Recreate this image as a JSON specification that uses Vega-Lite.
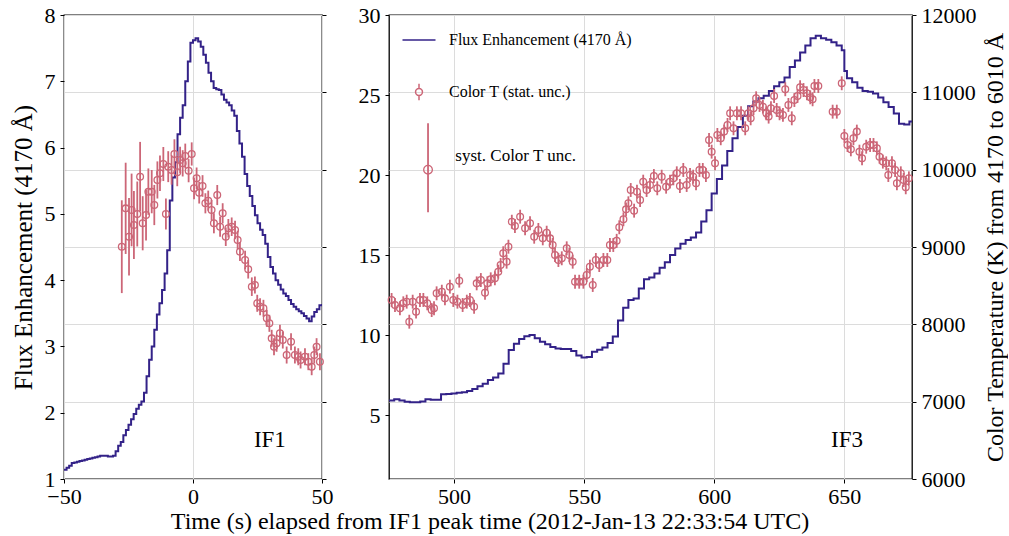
{
"$schema": "https://vega.github.io/schema/vega-lite/v6.json",
"background": "white",
"padding": {"left": 10, "top": 3, "right": 0, "bottom": 0},
"bounds": "flush",
"spacing": 67,
"config": {
  "view": {"stroke": "black", "strokeWidth": 1.3},
  "axis": {"domain": false, "grid": false, "tickColor": "black", "tickSize": 4, "tickWidth": 1, "labelFont": "Liberation Serif", "labelFontSize": 22, "labelColor": "black", "labelPadding": 5, "titleFont": "Liberation Serif", "titleFontSize": 24, "titleFontWeight": "normal", "titleColor": "black", "gridColor": "#dcdcdc", "gridWidth": 1, "format": "d"},
  "axisX": {"labelFlush": false, "labelPadding": 3},
  "legend": {"labelFont": "Liberation Serif", "labelFontSize": 16, "labelColor": "black"}
},
"title": {"text": "Time (s) elapsed from IF1 peak time (2012-Jan-13 22:33:54 UTC)", "orient": "bottom", "anchor": "middle", "dx": -19, "font": "Liberation Serif", "fontSize": 24, "fontWeight": "normal", "color": "black", "offset": 2},
"resolve": {"scale": {"color": "independent", "shape": "independent"}, "legend": {"color": "independent", "shape": "independent"}},
"datasets": {
  "flux1": [
    {"t":-50,"f":1.14},{"t":-49,"f":1.17},{"t":-48,"f":1.2},{"t":-47,"f":1.24},{"t":-46,"f":1.25},{"t":-45,"f":1.26},{"t":-44,"f":1.27},{"t":-43,"f":1.28},{"t":-42,"f":1.29},{"t":-41,"f":1.3},{"t":-40,"f":1.31},{"t":-39,"f":1.32},{"t":-38,"f":1.33},{"t":-37,"f":1.34},{"t":-36,"f":1.35},{"t":-35,"f":1.35},{"t":-34,"f":1.35},{"t":-33,"f":1.34},{"t":-32,"f":1.34},{"t":-31,"f":1.35},{"t":-30,"f":1.42},{"t":-29,"f":1.5},{"t":-28,"f":1.56},{"t":-27,"f":1.66},{"t":-26,"f":1.74},{"t":-25,"f":1.82},{"t":-24,"f":1.9},{"t":-23,"f":1.98},{"t":-22,"f":2.06},{"t":-21,"f":2.12},{"t":-20,"f":2.17},{"t":-19,"f":2.3},{"t":-18,"f":2.55},{"t":-17,"f":2.8},{"t":-16,"f":3.0},{"t":-15,"f":3.25},{"t":-14,"f":3.48},{"t":-13,"f":3.65},{"t":-12,"f":3.85},{"t":-11,"f":4.1},{"t":-10,"f":4.45},{"t":-9,"f":5.2},{"t":-8,"f":5.55},{"t":-7,"f":5.78},{"t":-6,"f":6.2},{"t":-5,"f":6.45},{"t":-4,"f":6.64},{"t":-3,"f":7.0},{"t":-2,"f":7.3},{"t":-1,"f":7.58},{"t":0,"f":7.62},{"t":1,"f":7.65},{"t":2,"f":7.6},{"t":3,"f":7.52},{"t":4,"f":7.4},{"t":5,"f":7.28},{"t":6,"f":7.13},{"t":7,"f":7.0},{"t":8,"f":6.9},{"t":9,"f":6.88},{"t":10,"f":6.87},{"t":11,"f":6.8},{"t":12,"f":6.72},{"t":13,"f":6.68},{"t":14,"f":6.64},{"t":15,"f":6.56},{"t":16,"f":6.48},{"t":17,"f":6.25},{"t":18,"f":6.06},{"t":19,"f":5.86},{"t":20,"f":5.6},{"t":21,"f":5.42},{"t":22,"f":5.27},{"t":23,"f":5.12},{"t":24,"f":4.98},{"t":25,"f":4.86},{"t":26,"f":4.76},{"t":27,"f":4.68},{"t":28,"f":4.55},{"t":29,"f":4.35},{"t":30,"f":4.2},{"t":31,"f":4.1},{"t":32,"f":4.0},{"t":33,"f":3.93},{"t":34,"f":3.86},{"t":35,"f":3.8},{"t":36,"f":3.76},{"t":37,"f":3.7},{"t":38,"f":3.64},{"t":39,"f":3.6},{"t":40,"f":3.56},{"t":41,"f":3.53},{"t":42,"f":3.5},{"t":43,"f":3.46},{"t":44,"f":3.42},{"t":45,"f":3.38},{"t":46,"f":3.45},{"t":47,"f":3.52},{"t":48,"f":3.56},{"t":49,"f":3.62},{"t":50,"f":3.64}
  ],
  "ct1": [
    {"t":-27.6,"T":9004,"e":600},{"t":-26.1,"T":9500,"e":590},{"t":-24.8,"T":9133,"e":500},{"t":-23.8,"T":9479,"e":470},{"t":-22.9,"T":9285,"e":440},{"t":-21.6,"T":9427,"e":420},{"t":-20.5,"T":9909,"e":450},{"t":-19.5,"T":9307,"e":350},{"t":-18.2,"T":9414,"e":330},{"t":-17.3,"T":9716,"e":300},{"t":-16,"T":9716,"e":280},{"t":-15,"T":9543,"e":260},{"t":-13.8,"T":9867,"e":240},{"t":-12.8,"T":9953,"e":230},{"t":-11.5,"T":10073,"e":220},{"t":-10.5,"T":9427,"e":200},{"t":-9.6,"T":10039,"e":200},{"t":-8.3,"T":9996,"e":190},{"t":-7.2,"T":10203,"e":190},{"t":-6.1,"T":9966,"e":180},{"t":-5,"T":10125,"e":170},{"t":-4,"T":10082,"e":170},{"t":-3,"T":10177,"e":160},{"t":-1.7,"T":9987,"e":150},{"t":-0.5,"T":10203,"e":150},{"t":0.4,"T":9759,"e":140},{"t":1.4,"T":9888,"e":140},{"t":2.4,"T":9702,"e":140},{"t":3.7,"T":9789,"e":140},{"t":4.8,"T":9565,"e":130},{"t":5.9,"T":9599,"e":130},{"t":7.2,"T":9479,"e":130},{"t":8.1,"T":9307,"e":130},{"t":9.4,"T":9672,"e":130},{"t":10.5,"T":9262,"e":130},{"t":11.5,"T":9436,"e":130},{"t":12.7,"T":9133,"e":120},{"t":13.7,"T":9242,"e":120},{"t":15,"T":9262,"e":120},{"t":16.3,"T":9220,"e":120},{"t":17.3,"T":9091,"e":120},{"t":18.2,"T":8940,"e":120},{"t":20.2,"T":8832,"e":120},{"t":21.4,"T":8712,"e":120},{"t":22.8,"T":8487,"e":120},{"t":24,"T":8509,"e":110},{"t":24.9,"T":8272,"e":110},{"t":26,"T":8228,"e":110},{"t":27.3,"T":8207,"e":110},{"t":28.6,"T":8078,"e":110},{"t":29.6,"T":8013,"e":110},{"t":30.5,"T":7819,"e":110},{"t":31.4,"T":7711,"e":110},{"t":32.4,"T":7755,"e":110},{"t":33.7,"T":7884,"e":110},{"t":34.8,"T":7797,"e":110},{"t":36.3,"T":7603,"e":110},{"t":38,"T":7776,"e":110},{"t":39.5,"T":7603,"e":110},{"t":40.8,"T":7581,"e":110},{"t":41.7,"T":7539,"e":110},{"t":43.4,"T":7581,"e":110},{"t":44.7,"T":7517,"e":110},{"t":46,"T":7452,"e":110},{"t":47,"T":7603,"e":110},{"t":47.9,"T":7711,"e":110},{"t":49.2,"T":7517,"e":110}
  ],
  "flux2": [
    {"t":475,"f":5.9},{"t":477,"f":5.98},{"t":479,"f":5.9},{"t":481,"f":5.83},{"t":483,"f":5.8},{"t":485,"f":5.79},{"t":487,"f":5.85},{"t":489,"f":5.98},{"t":491,"f":5.95},{"t":493,"f":5.95},{"t":495,"f":6.29},{"t":497,"f":6.31},{"t":499,"f":6.35},{"t":501,"f":6.39},{"t":503,"f":6.42},{"t":505,"f":6.5},{"t":507,"f":6.62},{"t":509,"f":6.8},{"t":511,"f":6.96},{"t":513,"f":7.18},{"t":515,"f":7.35},{"t":517,"f":7.6},{"t":519,"f":8.2},{"t":521,"f":9.06},{"t":523,"f":9.45},{"t":525,"f":9.75},{"t":527,"f":9.92},{"t":529,"f":10.0},{"t":531,"f":9.8},{"t":533,"f":9.58},{"t":535,"f":9.42},{"t":537,"f":9.25},{"t":539,"f":9.15},{"t":541,"f":9.13},{"t":543,"f":9.13},{"t":545,"f":9.0},{"t":547,"f":8.72},{"t":549,"f":8.6},{"t":551,"f":8.62},{"t":553,"f":8.95},{"t":555,"f":9.08},{"t":557,"f":9.22},{"t":559,"f":9.5},{"t":561,"f":9.9},{"t":563,"f":10.9},{"t":565,"f":11.7},{"t":567,"f":12.19},{"t":569,"f":12.28},{"t":571,"f":12.9},{"t":573,"f":13.48},{"t":575,"f":13.6},{"t":577,"f":13.85},{"t":579,"f":14.2},{"t":581,"f":14.55},{"t":583,"f":15.0},{"t":585,"f":15.4},{"t":587,"f":15.7},{"t":589,"f":15.94},{"t":591,"f":16.1},{"t":593,"f":16.4},{"t":595,"f":17.1},{"t":597,"f":17.8},{"t":599,"f":18.85},{"t":601,"f":19.75},{"t":603,"f":20.6},{"t":605,"f":21.5},{"t":607,"f":22.3},{"t":609,"f":23.0},{"t":611,"f":23.7},{"t":613,"f":24.3},{"t":615,"f":24.6},{"t":617,"f":24.79},{"t":619,"f":24.95},{"t":621,"f":25.25},{"t":623,"f":25.55},{"t":625,"f":25.8},{"t":627,"f":26.1},{"t":629,"f":26.75},{"t":631,"f":27.15},{"t":633,"f":27.65},{"t":635,"f":28.1},{"t":637,"f":28.55},{"t":639,"f":28.7},{"t":641,"f":28.55},{"t":643,"f":28.45},{"t":645,"f":28.3},{"t":647,"f":28.1},{"t":649,"f":27.8},{"t":650,"f":26.5},{"t":651,"f":26.04},{"t":653,"f":25.8},{"t":655,"f":25.45},{"t":657,"f":25.25},{"t":659,"f":25.2},{"t":661,"f":25.1},{"t":663,"f":24.85},{"t":665,"f":24.55},{"t":667,"f":24.25},{"t":669,"f":23.85},{"t":671,"f":23.2},{"t":673,"f":23.15},{"t":675,"f":23.35},{"t":676,"f":23.35}
  ],
  "ct2": [
    {"t":476,"T":8315,"e":90},{"t":477.3,"T":8250,"e":90},{"t":479.2,"T":8207,"e":90},{"t":480.5,"T":8272,"e":90},{"t":481.8,"T":8293,"e":90},{"t":482.8,"T":8034,"e":90},{"t":484.1,"T":8293,"e":90},{"t":485.4,"T":8164,"e":90},{"t":486.9,"T":8315,"e":90},{"t":488.2,"T":8315,"e":90},{"t":489.7,"T":8272,"e":90},{"t":491.4,"T":8185,"e":90},{"t":492.3,"T":8207,"e":90},{"t":493.3,"T":8401,"e":90},{"t":495.3,"T":8422,"e":90},{"t":496.5,"T":8336,"e":90},{"t":498.4,"T":8487,"e":90},{"t":499.7,"T":8315,"e":90},{"t":501.3,"T":8293,"e":90},{"t":502,"T":8565,"e":90},{"t":503.3,"T":8250,"e":90},{"t":504.9,"T":8293,"e":90},{"t":506.1,"T":8315,"e":90},{"t":507.7,"T":8228,"e":90},{"t":508.7,"T":8530,"e":90},{"t":510.3,"T":8573,"e":90},{"t":511.9,"T":8409,"e":90},{"t":512.8,"T":8530,"e":90},{"t":514.1,"T":8582,"e":90},{"t":515.7,"T":8595,"e":90},{"t":517,"T":8681,"e":90},{"t":517.9,"T":8767,"e":90},{"t":518.9,"T":8919,"e":90},{"t":520.2,"T":8810,"e":90},{"t":520.9,"T":9004,"e":90},{"t":522.2,"T":9327,"e":90},{"t":523.4,"T":9272,"e":90},{"t":525.4,"T":9392,"e":90},{"t":527.3,"T":9242,"e":90},{"t":529.2,"T":9307,"e":90},{"t":530.8,"T":9133,"e":90},{"t":532.4,"T":9220,"e":90},{"t":534.1,"T":9112,"e":90},{"t":535.6,"T":9185,"e":90},{"t":536.9,"T":9112,"e":90},{"t":537.9,"T":9026,"e":90},{"t":538.8,"T":8897,"e":90},{"t":540.1,"T":8832,"e":90},{"t":541.4,"T":8854,"e":90},{"t":543.3,"T":8983,"e":90},{"t":544.3,"T":8897,"e":90},{"t":545.6,"T":8810,"e":90},{"t":546.5,"T":8551,"e":90},{"t":548.1,"T":8551,"e":90},{"t":549.7,"T":8551,"e":90},{"t":551,"T":8638,"e":90},{"t":552.2,"T":8746,"e":90},{"t":553.3,"T":8509,"e":90},{"t":554.5,"T":8832,"e":90},{"t":555.8,"T":8767,"e":90},{"t":557.4,"T":8832,"e":90},{"t":558.9,"T":8832,"e":90},{"t":559.9,"T":9026,"e":90},{"t":561.2,"T":9026,"e":90},{"t":562.5,"T":9080,"e":90},{"t":563.5,"T":9255,"e":90},{"t":565.1,"T":9358,"e":90},{"t":566.1,"T":9487,"e":90},{"t":567,"T":9565,"e":90},{"t":567.9,"T":9737,"e":90},{"t":569.2,"T":9470,"e":90},{"t":570.3,"T":9716,"e":90},{"t":571.5,"T":9608,"e":90},{"t":572.7,"T":9845,"e":90},{"t":574,"T":9737,"e":90},{"t":575.3,"T":9802,"e":90},{"t":576.8,"T":9918,"e":90},{"t":578.1,"T":9759,"e":90},{"t":579.8,"T":9909,"e":90},{"t":581.5,"T":9780,"e":90},{"t":583,"T":9845,"e":90},{"t":584.3,"T":9888,"e":90},{"t":585.6,"T":9953,"e":90},{"t":586.8,"T":9789,"e":90},{"t":588.1,"T":9996,"e":90},{"t":589.4,"T":9802,"e":90},{"t":590.7,"T":9931,"e":90},{"t":591.9,"T":9909,"e":90},{"t":593,"T":9824,"e":90},{"t":594.3,"T":9996,"e":90},{"t":595.6,"T":9996,"e":90},{"t":596.8,"T":9931,"e":90},{"t":598,"T":10384,"e":90},{"t":599,"T":10233,"e":90},{"t":600.3,"T":10082,"e":90},{"t":601.2,"T":10449,"e":90},{"t":602.5,"T":10406,"e":90},{"t":603.8,"T":10492,"e":90},{"t":605.1,"T":10578,"e":90},{"t":606.1,"T":10729,"e":90},{"t":607.4,"T":10535,"e":90},{"t":608.7,"T":10729,"e":90},{"t":610.3,"T":10729,"e":90},{"t":611.9,"T":10535,"e":90},{"t":613.1,"T":10729,"e":90},{"t":614,"T":10664,"e":90},{"t":615.1,"T":10794,"e":90},{"t":616.1,"T":10923,"e":90},{"t":617.4,"T":10837,"e":90},{"t":618.7,"T":10815,"e":90},{"t":620,"T":10729,"e":90},{"t":620.9,"T":10686,"e":90},{"t":621.8,"T":10794,"e":90},{"t":623,"T":10953,"e":90},{"t":624,"T":10772,"e":90},{"t":625.1,"T":10729,"e":90},{"t":626.4,"T":10708,"e":90},{"t":627.3,"T":11040,"e":90},{"t":628.5,"T":10837,"e":90},{"t":629.8,"T":10664,"e":90},{"t":630.8,"T":10901,"e":90},{"t":632,"T":10953,"e":90},{"t":633,"T":11066,"e":90},{"t":634.3,"T":11030,"e":90},{"t":635.6,"T":10988,"e":90},{"t":636.9,"T":10936,"e":90},{"t":637.8,"T":10910,"e":90},{"t":638.5,"T":11082,"e":90},{"t":640,"T":11082,"e":90},{"t":645.5,"T":10750,"e":90},{"t":647.1,"T":10750,"e":90},{"t":649,"T":11117,"e":90},{"t":650,"T":10436,"e":90},{"t":651.2,"T":10319,"e":90},{"t":652.5,"T":10263,"e":90},{"t":653.5,"T":10406,"e":90},{"t":654.8,"T":10492,"e":90},{"t":655.8,"T":10233,"e":90},{"t":656.8,"T":10147,"e":90},{"t":658.4,"T":10297,"e":90},{"t":659.9,"T":10319,"e":90},{"t":661.2,"T":10319,"e":90},{"t":662.5,"T":10276,"e":90},{"t":663.5,"T":10168,"e":90},{"t":664.8,"T":10104,"e":90},{"t":666.1,"T":10082,"e":90},{"t":666.9,"T":9931,"e":90},{"t":668.3,"T":10082,"e":90},{"t":669.5,"T":9996,"e":90},{"t":670.2,"T":9824,"e":90},{"t":671.7,"T":9953,"e":90},{"t":672.8,"T":9867,"e":90},{"t":673.6,"T":9772,"e":90},{"t":674.8,"T":9888,"e":90}
  ],
  "leg": [{"s": "Flux Enhancement (4170 Å)", "t": 500, "T": 9000}, {"s": "Color T (stat. unc.)", "t": 500, "T": 9000}]
},
"hconcat": [
  {
    "width": 258, "height": 464,
    "layer": [
      {
        "layer": [
          {"data": {"name": "flux1"}, "mark": {"type": "line", "interpolate": "step-after", "color": "#332288", "strokeWidth": 2, "clip": true},
           "encoding": {
             "x": {"field": "t", "type": "quantitative", "scale": {"domain": [-50, 50], "nice": false, "zero": false}, "axis": {"values": [-50, 0, 50], "title": null, "grid": true}},
             "y": {"field": "f", "type": "quantitative", "scale": {"domain": [1, 8], "nice": false, "zero": false}, "axis": {"orient": "left", "values": [1,2,3,4,5,6,7,8], "title": "Flux Enhancement (4170 Å)", "titleFontSize": 25, "titlePadding": 8}}
           }},
          {"data": {"values": [{"t": 29.8, "f": 1.59, "label": "IF1"}]}, "mark": {"type": "text", "font": "Liberation Serif", "fontSize": 23, "color": "black", "align": "center", "baseline": "middle"},
           "encoding": {"x": {"field": "t", "type": "quantitative", "scale": {"domain": [-50, 50], "nice": false, "zero": false}}, "y": {"field": "f", "type": "quantitative"}, "text": {"field": "label"}}}
        ]
      },
      {
        "data": {"name": "ct1"},
        "layer": [
          {"mark": {"type": "errorbar", "ticks": false, "color": "#CC6677", "thickness": 1.8},
           "encoding": {
             "x": {"field": "t", "type": "quantitative", "scale": {"domain": [-50, 50], "nice": false, "zero": false}},
             "y": {"field": "T", "type": "quantitative", "scale": {"domain": [6000, 12000], "nice": false, "zero": false}, "axis": {"orient": "right", "values": [6000,7000,8000,9000,10000,11000,12000], "labels": false, "title": null, "grid": true}},
             "yError": {"field": "e"}
           }},
          {"mark": {"type": "point", "shape": "circle", "filled": false, "color": "#CC6677", "size": 45, "strokeWidth": 1.3, "opacity": 1},
           "encoding": {"x": {"field": "t", "type": "quantitative", "scale": {"domain": [-50, 50], "nice": false, "zero": false}}, "y": {"field": "T", "type": "quantitative"}}}
        ]
      }
    ],
    "resolve": {"scale": {"y": "independent"}, "axis": {"y": "independent"}}
  },
  {
    "width": 523, "height": 464,
    "layer": [
      {
        "layer": [
          {"data": {"name": "flux2"}, "mark": {"type": "line", "interpolate": "step-after", "color": "#332288", "strokeWidth": 2, "clip": true},
           "encoding": {
             "x": {"field": "t", "type": "quantitative", "scale": {"domain": [475, 676], "nice": false, "zero": false}, "axis": {"values": [500, 550, 600, 650], "title": null, "grid": true}},
             "y": {"field": "f", "type": "quantitative", "scale": {"domain": [1, 30], "nice": false, "zero": false}, "axis": {"orient": "left", "values": [5,10,15,20,25,30], "title": null}}
           }},
          {"data": {"values": [{"t": 651, "f": 3.44, "label": "IF3"}]}, "mark": {"type": "text", "font": "Liberation Serif", "fontSize": 23, "color": "black", "align": "center", "baseline": "middle"},
           "encoding": {"x": {"field": "t", "type": "quantitative", "scale": {"domain": [475, 676], "nice": false, "zero": false}}, "y": {"field": "f", "type": "quantitative"}, "text": {"field": "label"}}}
        ]
      },
      {
        "layer": [
          {"data": {"name": "ct2"}, "mark": {"type": "errorbar", "ticks": false, "color": "#CC6677", "thickness": 1.8},
           "encoding": {
             "x": {"field": "t", "type": "quantitative", "scale": {"domain": [475, 676], "nice": false, "zero": false}},
             "y": {"field": "T", "type": "quantitative", "scale": {"domain": [6000, 12000], "nice": false, "zero": false}, "axis": {"orient": "right", "values": [6000,7000,8000,9000,10000,11000,12000], "title": "Color Temperature (K) from 4170 to 6010 Å", "grid": true, "titlePadding": 7, "titleAngle": 270, "titleBaseline": "top"}},
             "yError": {"field": "e"}
           }},
          {"data": {"name": "ct2"}, "mark": {"type": "point", "shape": "circle", "filled": false, "color": "#CC6677", "size": 45, "strokeWidth": 1.3, "opacity": 1},
           "encoding": {
             "x": {"field": "t", "type": "quantitative", "scale": {"domain": [475, 676], "nice": false, "zero": false}},
             "y": {"field": "T", "type": "quantitative"}
           }},
          {"data": {"name": "leg"}, "mark": {"type": "point", "filled": false, "size": 45, "strokeWidth": 1.5, "opacity": 0},
           "encoding": {
             "x": {"field": "t", "type": "quantitative", "scale": {"domain": [475, 676], "nice": false, "zero": false}},
             "y": {"field": "T", "type": "quantitative"},
             "color": {"field": "s", "type": "nominal", "scale": {"domain": ["Flux Enhancement (4170 Å)", "Color T (stat. unc.)"], "range": ["#332288", "#CC6677"]},
               "legend": {"title": null, "orient": "none", "legendX": 14, "legendY": 9, "symbolSize": 900, "symbolStrokeWidth": 1.5, "symbolOpacity": 1, "rowPadding": 28, "labelOffset": 14, "padding": 0, "labelLimit": 400}},
             "shape": {"field": "s", "type": "nominal", "scale": {"domain": ["Flux Enhancement (4170 Å)", "Color T (stat. unc.)"], "range": ["M-1.1,0L1.1,0", "M-0.23,0A0.23,0.23 0 1,1 0.23,0A0.23,0.23 0 1,1 -0.23,0M0,-0.55L0,-0.23M0,0.23L0,0.55"]},
               "legend": {"title": null, "orient": "none", "legendX": 14, "legendY": 9, "symbolSize": 900, "symbolStrokeWidth": 1.5, "symbolOpacity": 1, "rowPadding": 28, "labelOffset": 14, "padding": 0, "labelLimit": 400}}
           }},
          {"data": {"values": [{"t": 490, "T": 10000, "lo": 9450, "hi": 10600}]}, "mark": {"type": "rule", "color": "#CC6677", "strokeWidth": 1.8},
           "encoding": {"x": {"field": "t", "type": "quantitative", "scale": {"domain": [475, 676], "nice": false, "zero": false}}, "y": {"field": "lo", "type": "quantitative"}, "y2": {"field": "hi"}}},
          {"data": {"values": [{"t": 490, "T": 10000}]}, "mark": {"type": "point", "shape": "circle", "filled": false, "color": "#CC6677", "size": 75, "strokeWidth": 1.3, "opacity": 1},
           "encoding": {"x": {"field": "t", "type": "quantitative", "scale": {"domain": [475, 676], "nice": false, "zero": false}}, "y": {"field": "T", "type": "quantitative"}}},
          {"data": {"values": [{"t": 500.5, "T": 10177, "label": "syst. Color T unc."}]}, "mark": {"type": "text", "font": "Liberation Serif", "fontSize": 17, "color": "black", "align": "left", "baseline": "middle"},
           "encoding": {"x": {"field": "t", "type": "quantitative", "scale": {"domain": [475, 676], "nice": false, "zero": false}}, "y": {"field": "T", "type": "quantitative"}, "text": {"field": "label"}}}
        ]
      }
    ],
    "resolve": {"scale": {"y": "independent"}, "axis": {"y": "independent"}}
  }
]
}
